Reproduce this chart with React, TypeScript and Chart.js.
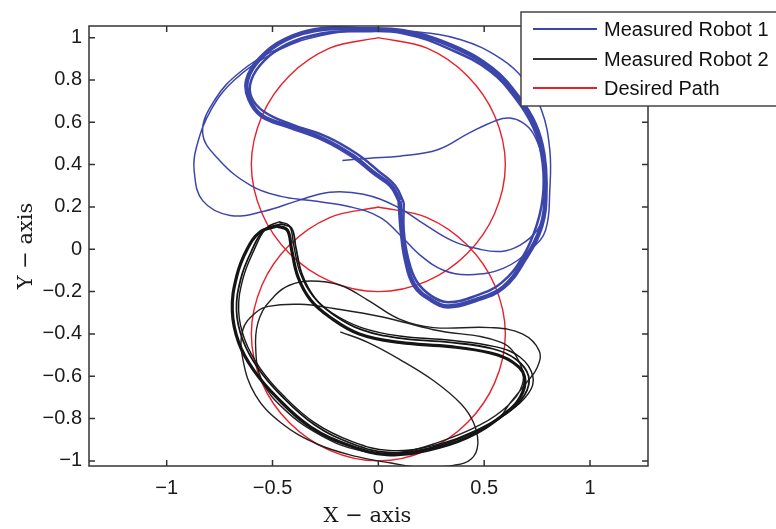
import React, { useEffect, useRef } from "react";
import { Chart, registerables } from "chart.js";

Chart.register(...registerables);

type P = [number, number];

const X_TICKS = [-1, -0.5, 0, 0.5, 1];
const X_LABELS = ["−1", "−0.5", "0", "0.5", "1"];
const Y_TICKS = [-1, -0.8, -0.6, -0.4, -0.2, 0, 0.2, 0.4, 0.6, 0.8, 1];
const Y_LABELS = ["−1", "−0.8", "−0.6", "−0.4", "−0.2", "0", "0.2", "0.4", "0.6", "0.8", "1"];
const X_TITLE = "X − axis";
const Y_TITLE = "Y − axis";
const LEGEND_LABELS = ["Measured Robot 1", "Measured Robot 2", "Desired Path"];

// Robot 1: start, two transient laps
const ROBOT1_TRANSIENT: P[] = [
  [-0.17, 0.42], [-0.04, 0.43], [0.10, 0.44], [0.28, 0.47], [0.43, 0.55], [0.56, 0.61], [0.62, 0.62],
  [0.68, 0.60], [0.73, 0.55], [0.77, 0.45], [0.79, 0.30], [0.79, 0.19], [0.75, 0.09], [0.67, 0.02],
  [0.58, -0.01], [0.48, 0.0], [0.35, 0.04], [0.20, 0.13], [0.09, 0.20], [-0.07, 0.26], [-0.23, 0.27],
  [-0.38, 0.23], [-0.54, 0.18], [-0.70, 0.16], [-0.83, 0.23], [-0.87, 0.37], [-0.86, 0.48], [-0.79, 0.66],
  [-0.68, 0.80], [-0.51, 0.92], [-0.32, 1.0], [-0.09, 1.04], [0.15, 1.03], [0.39, 0.99], [0.58, 0.90],
  [0.69, 0.80], [0.77, 0.66], [0.81, 0.47], [0.81, 0.28], [0.79, 0.09], [0.72, 0.0], [0.59, -0.09],
  [0.43, -0.12], [0.31, -0.10], [0.20, -0.03], [0.10, 0.07], [0.01, 0.15], [-0.13, 0.20], [-0.32, 0.23],
  [-0.46, 0.25], [-0.60, 0.30], [-0.75, 0.42], [-0.83, 0.55], [-0.77, 0.71], [-0.65, 0.84], [-0.49, 0.94],
  [-0.27, 1.01], [-0.04, 1.04], [0.12, 1.03],
];

// Robot 1: repeated steady lap (dense band)
const ROBOT1_LAP_A: P[] = [
  [0.10, 0.23], [0.06, 0.30], [-0.02, 0.36], [-0.12, 0.44], [-0.26, 0.52], [-0.42, 0.58], [-0.55, 0.63],
  [-0.61, 0.71], [-0.62, 0.80], [-0.56, 0.90], [-0.44, 0.99], [-0.27, 1.04], [-0.09, 1.04], [0.12, 1.03],
  [0.35, 0.96], [0.54, 0.85], [0.66, 0.72], [0.74, 0.59], [0.78, 0.45], [0.79, 0.28], [0.77, 0.11],
  [0.69, -0.05], [0.59, -0.18], [0.46, -0.24], [0.33, -0.27], [0.25, -0.24], [0.17, -0.17], [0.13, -0.05],
  [0.11, 0.09], [0.10, 0.23],
];
const ROBOT1_LAP_B: P[] = [
  [0.12, 0.22], [0.08, 0.30], [0.0, 0.37], [-0.10, 0.45], [-0.24, 0.53], [-0.41, 0.59], [-0.54, 0.65],
  [-0.60, 0.72], [-0.60, 0.80], [-0.54, 0.89], [-0.43, 0.97], [-0.27, 1.02], [-0.09, 1.03], [0.12, 1.02],
  [0.35, 0.94], [0.53, 0.84], [0.65, 0.71], [0.73, 0.58], [0.77, 0.45], [0.78, 0.28], [0.75, 0.12],
  [0.68, -0.04], [0.58, -0.16], [0.46, -0.22], [0.33, -0.25], [0.25, -0.22], [0.18, -0.15], [0.14, -0.04],
  [0.12, 0.09], [0.12, 0.22],
];

// Robot 2: start and transient laps
const ROBOT2_TRANSIENT: P[] = [
  [-0.18, -0.39], [-0.05, -0.44], [0.10, -0.52], [0.26, -0.62], [0.39, -0.73], [0.45, -0.82], [0.47, -0.92],
  [0.44, -0.99], [0.36, -1.02], [0.20, -1.03], [0.06, -1.01], [-0.10, -0.98], [-0.29, -0.92], [-0.46, -0.82],
  [-0.58, -0.69], [-0.64, -0.52], [-0.64, -0.38], [-0.58, -0.30], [-0.52, -0.27], [-0.37, -0.26],
  [-0.21, -0.28], [0.02, -0.32], [0.26, -0.38], [0.58, -0.44], [0.67, -0.54], [0.68, -0.64], [0.61, -0.74],
  [0.48, -0.83], [0.29, -0.91], [0.10, -0.96], [-0.09, -0.95], [-0.27, -0.88], [-0.44, -0.76], [-0.55, -0.62],
  [-0.58, -0.45], [-0.56, -0.32], [-0.49, -0.22], [-0.42, -0.17], [-0.32, -0.15], [-0.18, -0.17],
  [-0.05, -0.24], [0.10, -0.33], [0.26, -0.37], [0.53, -0.37], [0.68, -0.40], [0.76, -0.48], [0.75, -0.56],
  [0.70, -0.63], [0.62, -0.73], [0.58, -0.79],
];

// Robot 2: repeated steady laps
const ROBOT2_LAP_A: P[] = [
  [-0.48, 0.11], [-0.43, 0.09], [-0.41, 0.0], [-0.38, -0.13], [-0.32, -0.24], [-0.23, -0.32], [-0.09, -0.40],
  [0.10, -0.44], [0.34, -0.46], [0.53, -0.49], [0.63, -0.53], [0.69, -0.60], [0.67, -0.70], [0.58, -0.79],
  [0.42, -0.89], [0.23, -0.95], [0.04, -0.97], [-0.13, -0.93], [-0.32, -0.84], [-0.48, -0.70], [-0.59, -0.57],
  [-0.66, -0.44], [-0.69, -0.29], [-0.67, -0.13], [-0.62, 0.0], [-0.56, 0.08], [-0.48, 0.11],
];
const ROBOT2_LAP_B: P[] = [
  [-0.46, 0.12], [-0.41, 0.10], [-0.39, 0.01], [-0.36, -0.12], [-0.30, -0.23], [-0.21, -0.31], [-0.08, -0.38],
  [0.10, -0.42], [0.34, -0.44], [0.54, -0.47], [0.65, -0.52], [0.71, -0.60], [0.69, -0.69], [0.60, -0.78],
  [0.44, -0.87], [0.24, -0.94], [0.05, -0.96], [-0.12, -0.92], [-0.30, -0.83], [-0.46, -0.69], [-0.57, -0.56],
  [-0.64, -0.43], [-0.67, -0.29], [-0.65, -0.14], [-0.60, -0.01], [-0.54, 0.09], [-0.46, 0.12],
];
const ROBOT2_LAP_C: P[] = [
  [-0.47, 0.13], [-0.42, 0.11], [-0.40, 0.02], [-0.37, -0.11], [-0.31, -0.22], [-0.22, -0.30], [-0.08, -0.37],
  [0.10, -0.41], [0.34, -0.43], [0.55, -0.46], [0.67, -0.51], [0.73, -0.60], [0.71, -0.68], [0.61, -0.77],
  [0.45, -0.86], [0.25, -0.93], [0.05, -0.95], [-0.12, -0.91], [-0.30, -0.82], [-0.45, -0.69], [-0.56, -0.56],
  [-0.63, -0.43], [-0.66, -0.29], [-0.64, -0.14], [-0.59, -0.01], [-0.53, 0.10], [-0.47, 0.13],
];

// Desired path: two circles
const DESIRED_UPPER: P[] = [
  [0, 1.0], [0.23, 0.95], [0.42, 0.82], [0.55, 0.63], [0.6, 0.4], [0.55, 0.17], [0.42, -0.02], [0.23, -0.15],
  [0, -0.2], [-0.23, -0.15], [-0.42, -0.02], [-0.55, 0.17], [-0.6, 0.4], [-0.55, 0.63], [-0.42, 0.82],
  [-0.23, 0.95], [0, 1.0],
];
const DESIRED_LOWER: P[] = [
  [0, 0.2], [0.23, 0.15], [0.42, 0.02], [0.55, -0.17], [0.6, -0.4], [0.55, -0.63], [0.42, -0.82], [0.23, -0.95],
  [0, -1.0], [-0.23, -0.95], [-0.42, -0.82], [-0.55, -0.63], [-0.6, -0.4], [-0.55, -0.17], [-0.42, 0.02],
  [-0.23, 0.15], [0, 0.2],
];

const BLUE = "#3c46aa";
const BLACK = "#151515";
const RED = "#e8202a";
const FRAME = "#333333";

const toXY = (pts: P[]) => pts.map(([x, y]) => ({ x, y }));

const decorPlugin = {
  id: "decor",
  afterDatasetsDraw(chart: any) {
    const { ctx, chartArea } = chart;
    const { left, right, top, bottom } = chartArea;
    const xs = chart.scales.x;
    const ys = chart.scales.y;
    ctx.save();
    ctx.strokeStyle = FRAME;
    ctx.lineWidth = 1.5;
    ctx.strokeRect(left, top, right - left, bottom - top);
    const tl = 6;
    ctx.beginPath();
    X_TICKS.forEach((v) => {
      const px = xs.getPixelForValue(v);
      ctx.moveTo(px, bottom);
      ctx.lineTo(px, bottom - tl);
      ctx.moveTo(px, top);
      ctx.lineTo(px, top + tl);
    });
    Y_TICKS.forEach((v) => {
      const py = ys.getPixelForValue(v);
      ctx.moveTo(left, py);
      ctx.lineTo(left + tl, py);
      ctx.moveTo(right, py);
      ctx.lineTo(right - tl, py);
    });
    ctx.stroke();

    // axis titles
    ctx.fillStyle = "#1a1a1a";
    ctx.font = "21px 'DejaVu Serif'";
    ctx.textAlign = "center";
    ctx.textBaseline = "middle";
    ctx.fillText(X_TITLE, (left + right) / 2 - 1, 517);
    ctx.save();
    ctx.translate(27, (top + bottom) / 2);
    ctx.rotate(-Math.PI / 2);
    ctx.fillText(Y_TITLE, 0, 0);
    ctx.restore();

    // legend
    const lx = 521, ly = 12, lh = 94;
    ctx.fillStyle = "#ffffff";
    ctx.fillRect(lx, ly, 300, lh);
    ctx.strokeStyle = "#444444";
    ctx.lineWidth = 1.5;
    ctx.strokeRect(lx, ly, 300, lh);
    const colors = [BLUE, "#333333", RED];
    const rows = [29, 59, 88];
    ctx.font = "20px 'Liberation Sans'";
    ctx.textAlign = "left";
    ctx.textBaseline = "middle";
    LEGEND_LABELS.forEach((label, i) => {
      ctx.strokeStyle = colors[i];
      ctx.lineWidth = 2;
      ctx.beginPath();
      ctx.moveTo(533, rows[i]);
      ctx.lineTo(597, rows[i]);
      ctx.stroke();
      ctx.fillStyle = "#111111";
      ctx.fillText(label, 604, rows[i] + 1);
    });
    ctx.restore();
  },
};

export default function App() {
  const ref = useRef<HTMLCanvasElement | null>(null);
  useEffect(() => {
    if (!ref.current) return;
    const line = (data: P[], color: string, width: number, tension = 0.4) => ({
      data: toXY(data),
      borderColor: color,
      backgroundColor: color,
      borderWidth: width,
      showLine: true,
      pointRadius: 0,
      tension,
      fill: false,
    });
    const chart = new Chart(ref.current, {
      type: "scatter",
      data: {
        datasets: [
          line(ROBOT1_LAP_A, BLUE, 4.5),
          line(ROBOT1_LAP_B, BLUE, 2.5),
          line(ROBOT1_TRANSIENT, BLUE, 1.5),
          line(ROBOT2_LAP_A, BLACK, 3.2),
          line(ROBOT2_LAP_B, BLACK, 1.8),
          line(ROBOT2_LAP_C, BLACK, 1.4),
          line(ROBOT2_TRANSIENT, "#222222", 1.4),
          line(DESIRED_UPPER, RED, 1.4, 0.34),
          line(DESIRED_LOWER, RED, 1.4, 0.34),
        ] as any,
      },
      plugins: [decorPlugin as any],
      options: {
        animation: false,
        responsive: false,
        devicePixelRatio: 1,
        layout: { padding: { left: 0, top: 26, right: 128, bottom: 0 } },
        plugins: { legend: { display: false }, tooltip: { enabled: false } },
        scales: {
          x: {
            type: "linear",
            min: -1.367,
            max: 1.274,
            grid: { display: false, drawTicks: false },
            border: { display: false },
            ticks: {
              padding: 10,
              color: "#1a1a1a",
              font: { family: "'Liberation Sans'", size: 20 },
              callback: (_v: any, i: number) => X_LABELS[i],
            },
            afterBuildTicks: (s: any) => {
              s.ticks = X_TICKS.map((value) => ({ value }));
            },
            afterFit: (s: any) => {
              s.height = 63;
            },
          },
          y: {
            type: "linear",
            min: -1.024,
            max: 1.055,
            grid: { display: false, drawTicks: false },
            border: { display: false },
            ticks: {
              padding: 7,
              color: "#1a1a1a",
              font: { family: "'Liberation Sans'", size: 20 },
              callback: (_v: any, i: number) => Y_LABELS[i],
            },
            afterBuildTicks: (s: any) => {
              s.ticks = Y_TICKS.map((value) => ({ value }));
            },
            afterFit: (s: any) => {
              s.width = 89;
            },
          },
        },
      },
    });
    return () => chart.destroy();
  }, []);
  return (
    <div style={{ position: "fixed", left: 0, top: 0, width: 776, height: 529, background: "#fff" }}>
      <canvas ref={ref} width={776} height={529} style={{ width: 776, height: 529, display: "block" }} />
    </div>
  );
}
